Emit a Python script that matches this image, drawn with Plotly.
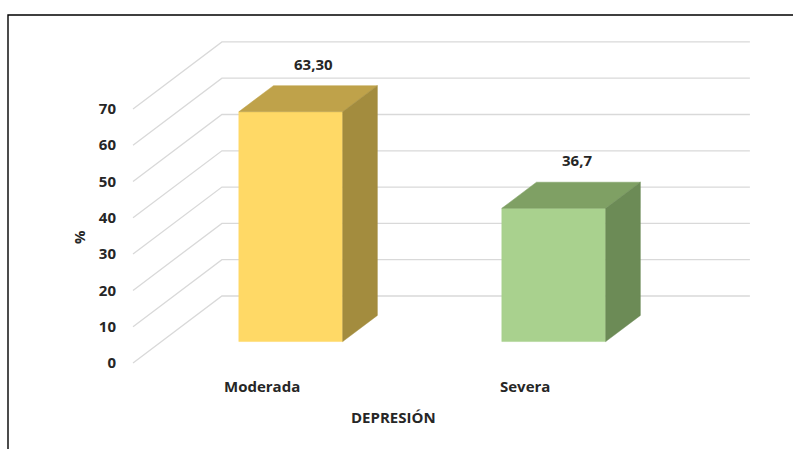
import plotly.graph_objects as go

# ---- data -------------------------------------------------------------
categories = ["Moderada", "Severa"]
values = [63.30, 36.7]
value_labels = ["63,30", "36,7"]
y_ticks = [0, 10, 20, 30, 40, 50, 60, 70]
x_title = "DEPRESIÓN"
y_title = "%"

# ---- styling ----------------------------------------------------------
front_colors = ["#FFD966", "#A9D18E"]
top_colors = ["#BFA24A", "#7FA064"]
side_colors = ["#A38C3E", "#6C8B56"]
grid_color = "#D9D9D9"
text_color = "#262626"
FONT = "Open Sans"
FONT_SIZE = 15

# oblique "3D" projection: depth z runs from 0 (front edge of floor) to 1 (back wall)
KX = 0.338     # horizontal shift (category units) per unit of depth
KY = 18.46     # vertical shift (value units) per unit of depth
Z_FRONT, Z_BACK = 0.32, 0.71   # depth span of the bars
BAR_W = 0.395
WALL_LEFT = -0.4916
WALL_RIGHT = 1.516

W, H = 793, 449
ML = 124
X_RANGE = [-0.5259, 2.0179]
Y_RANGE = [-23.69, 100.0]


def proj(x, v, z):
    return x + KX * z, v + KY * z


def poly(points):
    xs = [p[0] for p in points] + [points[0][0]]
    ys = [p[1] for p in points] + [points[0][1]]
    return xs, ys


def px_to_paper_x(px):
    return (px - ML) / (W - ML)


def px_to_paper_y(py):
    return (H - py) / H


label_font = dict(family=FONT, size=FONT_SIZE, color=text_color, weight="bold")

fig = go.Figure()

# gridlines: left side wall (oblique) + back wall (horizontal)
gx, gy = [], []
for t in y_ticks:
    x0, y0 = proj(WALL_LEFT, t, 0)
    x1, y1 = proj(WALL_LEFT, t, 1)
    x2, y2 = proj(WALL_RIGHT, t, 1)
    gx += [x0, x1, x2, None]
    gy += [y0, y1, y2, None]
fig.add_trace(go.Scatter(x=gx, y=gy, mode="lines",
                         line=dict(color=grid_color, width=1.3),
                         hoverinfo="skip", showlegend=False))

# bars as three visible faces each
for i, v in enumerate(values):
    xl, xr = i - BAR_W / 2, i + BAR_W / 2
    front = [proj(xl, 0, Z_FRONT), proj(xr, 0, Z_FRONT),
             proj(xr, v, Z_FRONT), proj(xl, v, Z_FRONT)]
    top = [proj(xl, v, Z_FRONT), proj(xr, v, Z_FRONT),
           proj(xr, v, Z_BACK), proj(xl, v, Z_BACK)]
    side = [proj(xr, 0, Z_FRONT), proj(xr, 0, Z_BACK),
            proj(xr, v, Z_BACK), proj(xr, v, Z_FRONT)]
    for pts, col in ((front, front_colors[i]), (top, top_colors[i]), (side, side_colors[i])):
        xs, ys = poly(pts)
        fig.add_trace(go.Scatter(x=xs, y=ys, mode="lines", fill="toself",
                                 fillcolor=col, line=dict(color=col, width=0.5),
                                 hoverinfo="skip", showlegend=False))
    lx, ly = proj(i, v, 0.58)
    fig.add_annotation(x=lx, y=v + KY * Z_BACK + 6.0, text=value_labels[i],
                       showarrow=False, xanchor="center", yanchor="middle",
                       font=label_font)

# category labels on the floor's front edge
for i, c in enumerate(categories):
    fig.add_annotation(x=i, y=-6.3, text=c, showarrow=False,
                       xanchor="center", yanchor="middle", font=label_font)

# axis titles
fig.add_annotation(x=(len(categories) - 1) / 2, y=-14.9, text=x_title, showarrow=False,
                   xanchor="center", yanchor="middle", font=label_font)
fig.add_annotation(x=px_to_paper_x(79), xref="paper", y=34.7, text=y_title,
                   showarrow=False, textangle=-90, xanchor="center", yanchor="middle",
                   font=label_font)

# outer frame
fig.add_shape(type="rect", xref="paper", yref="paper",
              x0=px_to_paper_x(8), x1=1.05, y0=-0.05, y1=px_to_paper_y(15),
              line=dict(color="#000000", width=1.4), fillcolor="rgba(0,0,0,0)")

fig.update_layout(
    width=W, height=H,
    margin=dict(l=ML, r=0, t=0, b=0, autoexpand=False),
    paper_bgcolor="white", plot_bgcolor="white",
    xaxis=dict(range=X_RANGE, showgrid=False, zeroline=False, showline=False,
               showticklabels=False, ticks="", fixedrange=True),
    yaxis=dict(range=Y_RANGE, tickvals=y_ticks, showgrid=False, zeroline=False,
               showline=False, ticks="", ticklabelstandoff=7,
               tickfont=label_font, fixedrange=True),
)

fig.write_html("out.html")
